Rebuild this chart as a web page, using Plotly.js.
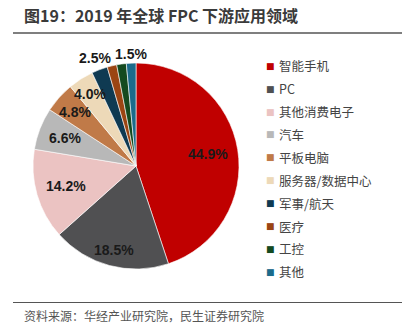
<!DOCTYPE html>
<html><head><meta charset="utf-8">
<script src="https://cdn.plot.ly/plotly-3.0.1.min.js"></script>
<style>html,body{margin:0;padding:0;background:#fff}#chart{width:411px;height:330px}</style>
</head><body><div id="chart"></div>
<script>
const categories = ['智能手机','PC','其他消费电子','汽车','平板电脑','服务器/数据中心','军事/航天','医疗','工控','其他'];
const shares = [44.9, 18.5, 14.2, 6.6, 4.8, 4.0, 2.5, 1.5, 1.5, 1.5];
const showLabel = [true, true, true, true, true, true, true, false, false, true];
const colors = ['#C00000','#505052','#EBC3C2','#B8B8B8','#C07A48','#EDD9B8','#0F3A52','#9B4513','#144A1F','#1C6B8B'];
const titleText = '图19：2019 年全球 FPC 下游应用领域';
const sourceText = '资料来源：华经产业研究院，民生证券研究院';

// label placement (style): radius fraction per slice
const labelRadius = [0.71, 0.84, 0.71, 0.74, 0.79, 0.83, 1.12, 1.1, 1.1, 1.09];

const W = 411, H = 330;
const pieDom = {x:[33/W, 239/W], y:[61/H, 267/H]};

const trace = {
  type:'pie', labels:categories, values:shares, sort:false, direction:'clockwise', rotation:0,
  textinfo:'none',
  marker:{colors:colors, line:{color:'#ffffff', width:0.6}},
  domain:pieDom, hoverinfo:'none', showlegend:false
};

const font = 'Noto Sans CJK SC, sans-serif';
const annotations = [
  {text:'<b>'+titleText+'</b>', xref:'paper', yref:'paper', x:22/W, y:1-15/H, xanchor:'left', yanchor:'middle', showarrow:false, font:{family:font, size:16, color:'#3a3a3a'}},
  {text:sourceText, xref:'paper', yref:'paper', x:22/W, y:1-315/H, xanchor:'left', yanchor:'middle', showarrow:false, font:{family:font, size:12, color:'#555555'}}
];

// data labels positioned from the slice angles
const total = shares.reduce((a,b)=>a+b,0);
const cx = (pieDom.x[0]+pieDom.x[1])/2*W, cy = (pieDom.y[0]+pieDom.y[1])/2*H;
const R = Math.min((pieDom.x[1]-pieDom.x[0])*W, (pieDom.y[1]-pieDom.y[0])*H)/2;
let cum = 0;
shares.forEach((v,i)=>{
  const th = (cum + v/2)/total*2*Math.PI; cum += v;
  if(!showLabel[i]) return;
  const px = cx + R*labelRadius[i]*Math.sin(th);
  const py = cy + R*labelRadius[i]*Math.cos(th);
  annotations.push({text:'<b>'+v.toFixed(1)+'%</b>', xref:'paper', yref:'paper', x:px/W, y:py/H, xanchor:'center', yanchor:'middle', showarrow:false,
    font:{family:'Liberation Sans, Arial, sans-serif', size:14, color:'#1a1a1a'}});
});

categories.forEach((c,i)=>{
  const y = 1 - (65.7 + i*22.9)/H;
  annotations.push({text:'■', xref:'paper', yref:'paper', x:270/W, y:y, xanchor:'center', yanchor:'middle', showarrow:false, font:{family:'DejaVu Sans', size:9, color:colors[i]}});
  annotations.push({text:c, xref:'paper', yref:'paper', x:277/W, y:y, xanchor:'left', yanchor:'middle', showarrow:false, font:{family:font, size:12.5, color:'#444444'}});
});

const layout = {
  width:W, height:H, margin:{l:0,r:0,t:0,b:0}, paper_bgcolor:'#fff',
  showlegend:false, annotations:annotations,
  shapes:[
    {type:'line', xref:'paper', yref:'paper', x0:13/W, x1:402/W, y0:1-33/H, y1:1-33/H, line:{color:'#555555', width:1.5}},
    {type:'line', xref:'paper', yref:'paper', x0:13/W, x1:402/W, y0:1-302.5/H, y1:1-302.5/H, line:{color:'#555555', width:1.2}}
  ]
};
Plotly.newPlot('chart',[trace],layout,{displayModeBar:false, staticPlot:true});
</script></body></html>
